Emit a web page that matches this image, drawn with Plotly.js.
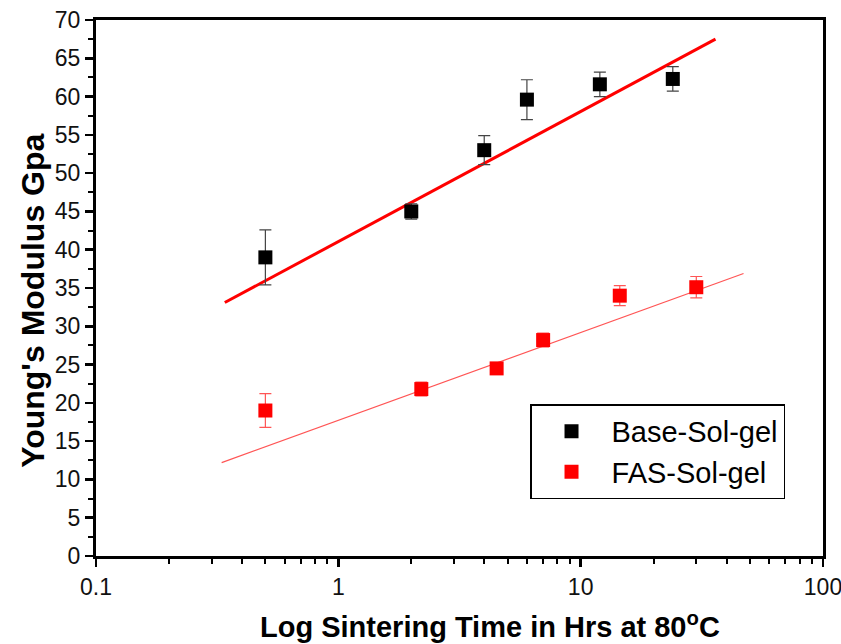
<!DOCTYPE html>
<html>
<head>
<meta charset="utf-8">
<script src="https://cdn.plot.ly/plotly-3.0.1.min.js"></script>
<style>html,body{margin:0;padding:0;background:#fff}#chart{width:841px;height:644px}</style>
</head>
<body>
<div id="chart"></div>
<script>
// Base-Sol-gel measurements
const baseTime = [0.5, 2, 4, 6, 12, 24];
const baseModulus = [39, 45, 53, 59.6, 61.6, 62.3];
const baseErr = [3.6, 1.0, 1.9, 2.6, 1.6, 1.6];
// FAS-Sol-gel measurements
const fasTime = [0.5, 2.2, 4.5, 7, 14.5, 30];
const fasModulus = [19, 21.8, 24.5, 28.2, 34, 35.1];
const fasErr = [2.2, 0.9, 0.4, 0.9, 1.3, 1.4];
// Linear fit lines (on log time axis), endpoints
const baseFitTime = [0.34, 36];
const baseFitModulus = [33.1, 67.5];
const fasFitTime = [0.33, 47];
const fasFitModulus = [12.2, 36.9];
// Axis ticks and titles
const yTicks = [0,5,10,15,20,25,30,35,40,45,50,55,60,65,70];
const xTicks = [0.1, 1, 10, 100];
const xTickText = ['0.1', '1', '10', '100'];
const xTitle = 'Log Sintering Time in Hrs at 80<sup>o</sup>C';
const yTitle = 'Young\'s Modulus Gpa';
const xMinor = [];
[0.1, 1, 10].forEach(d => { for (let k = 2; k <= 9; k++) xMinor.push(d * k); });

const traces = [
  {x: baseFitTime, y: baseFitModulus, mode: 'lines', line: {color: '#ff0000', width: 3}, showlegend: false, hoverinfo: 'skip'},
  {x: fasFitTime, y: fasFitModulus, mode: 'lines', line: {color: '#ff5555', width: 1.2}, showlegend: false, hoverinfo: 'skip'},
  {x: baseTime, y: baseModulus, name: 'Base-Sol-gel', mode: 'markers',
   marker: {symbol: 'square', size: 14, color: '#000000'},
   error_y: {type: 'data', array: baseErr, visible: true, color: '#444444', thickness: 1.2, width: 6}},
  {x: fasTime, y: fasModulus, name: 'FAS-Sol-gel', mode: 'markers',
   marker: {symbol: 'square', size: 14, color: '#ff0000'},
   error_y: {type: 'data', array: fasErr, visible: true, color: '#ff5555', thickness: 1.2, width: 6}}
];

const layout = {
  width: 841, height: 644,
  margin: {l: 96, r: 18, t: 20, b: 88},
  paper_bgcolor: '#ffffff', plot_bgcolor: '#ffffff',
  font: {family: 'Arial, "Liberation Sans", sans-serif', color: '#000'},
  showlegend: true,
  legend: {x: 0.597, y: 0.283, xanchor: 'left', yanchor: 'top',
    bordercolor: '#000', borderwidth: 1.5, bgcolor: '#fff',
    font: {size: 29, color: '#000'}, itemwidth: 70},
  xaxis: {
    type: 'log', range: [-1, 2],
    tickvals: xTicks, ticktext: xTickText, ticklabeloverflow: 'allow',
    ticks: 'outside', ticklen: 8, tickwidth: 2.5, tickcolor: '#000',
    minor: {tickvals: xMinor, ticks: 'outside', ticklen: 5, tickwidth: 2, tickcolor: '#000', showgrid: false},
    showline: true, linecolor: '#000', linewidth: 3, mirror: true,
    showgrid: false, zeroline: false,
    tickfont: {size: 23, color: '#111'}
  },
  yaxis: {
    range: [0, 70], tickvals: yTicks,
    ticks: 'outside', ticklen: 8, tickwidth: 2.5, tickcolor: '#000',
    minor: {dtick: 2.5, ticks: 'outside', ticklen: 5, tickwidth: 2, tickcolor: '#000', showgrid: false},
    showline: true, linecolor: '#000', linewidth: 3, mirror: true,
    showgrid: false, zeroline: false,
    tickfont: {size: 23, color: '#111'}
  },
  annotations: [
    {text: '<b>' + xTitle + '</b>', xref: 'paper', yref: 'paper', x: 0.542, y: -0.129,
     xanchor: 'center', yanchor: 'middle', showarrow: false, font: {size: 29, color: '#000'}},
    {text: '<b>' + yTitle + '</b>', xref: 'paper', yref: 'paper', x: -0.086, y: 0.477,
     xanchor: 'center', yanchor: 'middle', textangle: -90, showarrow: false, font: {size: 32, color: '#000'}}
  ]
};

Plotly.newPlot('chart', traces, layout, {displayModeBar: false, staticPlot: true});
</script>
</body>
</html>
